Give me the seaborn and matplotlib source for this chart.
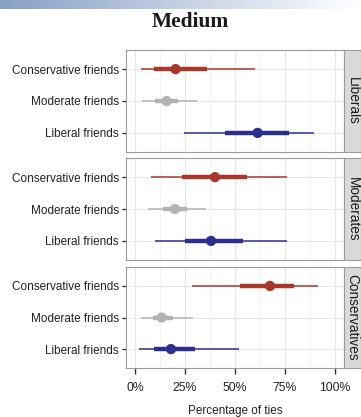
import matplotlib
matplotlib.use("Agg")
import matplotlib.pyplot as plt
import numpy as np
import pandas as pd
import seaborn as sns

# panels (respondent ideology) and rows (friend ideology)
panels = ["Liberals", "Moderates", "Conservatives"]
friends = ["Conservative friends", "Moderate friends", "Liberal friends"]
colors = ["#a8382c", "#b3b3b3", "#2c2f8e"]

# values in % per panel, rows in the order of `friends`
point_est = [[20.3, 15.8, 61.3], [40.0, 20.0, 38.0], [67.5, 13.3, 18.0]]
inner_lo = [[9.5, 10.0, 45.0], [23.7, 14.0, 25.0], [52.5, 8.8, 9.5]]
inner_hi = [[36.0, 21.5, 77.0], [55.8, 25.8, 53.8], [79.5, 19.2, 30.0]]
outer_lo = [[2.8, 3.3, 24.5], [7.8, 6.3, 10.0], [28.3, 2.8, 2.2]]
outer_hi = [[60.0, 31.0, 89.7], [76.0, 35.3, 76.0], [91.3, 28.8, 52.2]]

x_ticks = [0, 25, 50, 75, 100]
x_labels = ["0%", "25%", "50%", "75%", "100%"]

rows = []
for p, panel in enumerate(panels):
    for r, friend in enumerate(friends):
        rows.append(dict(panel=panel, friend=friend, row=r,
                         est=point_est[p][r], lo50=inner_lo[p][r], hi50=inner_hi[p][r],
                         lo95=outer_lo[p][r], hi95=outer_hi[p][r]))
df = pd.DataFrame(rows)

sns.set_style("white")
plt.rcParams["font.family"] = ["Liberation Sans", "DejaVu Sans"]

W, H = 361, 417
fig = plt.figure(figsize=(W / 100, H / 100), dpi=100)

# gradient band across the top
band = fig.add_axes([0, 1 - 9 / H, 1, 9 / H])
grad = np.linspace(0, 1, 256).reshape(1, -1)
band.imshow(grad, aspect="auto", cmap=matplotlib.colors.LinearSegmentedColormap.from_list(
    "band", ["#86a0c6", "#c3d0e2", "#ffffff"]), extent=[0, 1, 0, 1])
band.axis("off")

fig.text(190 / W, 1 - 22 / H, "Medium", ha="center", va="center",
         fontsize=15.5, fontweight="bold", family="Liberation Serif", color="#1a1a1a")

panel_box = [(50, 152), (158, 260), (267, 368)]
left, right = 126, 344
strip_w = 17

for p, panel in enumerate(panels):
    top, bot = panel_box[p]
    ax = fig.add_axes([left / W, 1 - bot / H, (right - left) / W, (bot - top) / H])
    sub = df[df["panel"] == panel]

    ax.set_xlim(-4.5, 104.5)
    ax.set_ylim(2.6, -0.6)
    ax.set_xticks(x_ticks)
    ax.set_xticks([12.5, 37.5, 62.5, 87.5], minor=True)
    ax.grid(True, which="major", color="#e6e6e6", lw=0.8)
    ax.grid(True, which="minor", color="#f2f2f2", lw=0.6)
    ax.set_axisbelow(True)

    for _, rw in sub.iterrows():
        c = colors[rw["row"]]
        ax.hlines(rw["row"], rw["lo95"], rw["hi95"], color=c, lw=1.1, zorder=2)
        ax.hlines(rw["row"], rw["lo50"], rw["hi50"], color=c, lw=3.2, zorder=3)
    sns.scatterplot(data=sub, x="est", y="row", hue="friend", palette=colors,
                    hue_order=friends, s=55, edgecolor="none", legend=False,
                    ax=ax, zorder=4)

    ax.set_yticks(range(len(friends)))
    ax.set_yticklabels(friends)
    ax.set_ylabel("")
    ax.set_xlabel("")
    ax.tick_params(axis="y", length=3, width=1, color="#333333", labelsize=8.5,
                   pad=2, labelcolor="#222222", left=True)
    if p == len(panels) - 1:
        ax.set_xticklabels(x_labels)
        ax.tick_params(axis="x", length=4, width=1, color="#333333", labelsize=8.8,
                       labelcolor="#222222", bottom=True, pad=6)
        ax.set_xlabel("Percentage of ties", fontsize=8.5, color="#222222", labelpad=8)
    else:
        ax.tick_params(axis="x", bottom=False, labelbottom=False)
    ax.tick_params(which="minor", length=0)
    for s in ax.spines.values():
        s.set_color("#9a9a9a")
        s.set_linewidth(0.8)

    strip = fig.add_axes([right / W, 1 - bot / H, strip_w / W, (bot - top) / H])
    strip.set_facecolor("#d9d9d9")
    strip.set_xticks([])
    strip.set_yticks([])
    for s in strip.spines.values():
        s.set_color("#9a9a9a")
        s.set_linewidth(0.8)
    strip.text(0.5, 0.5, panel, rotation=270, ha="center", va="center",
               fontsize=9.8, color="#1a1a1a", transform=strip.transAxes)

fig.savefig("out.png", dpi=100)
